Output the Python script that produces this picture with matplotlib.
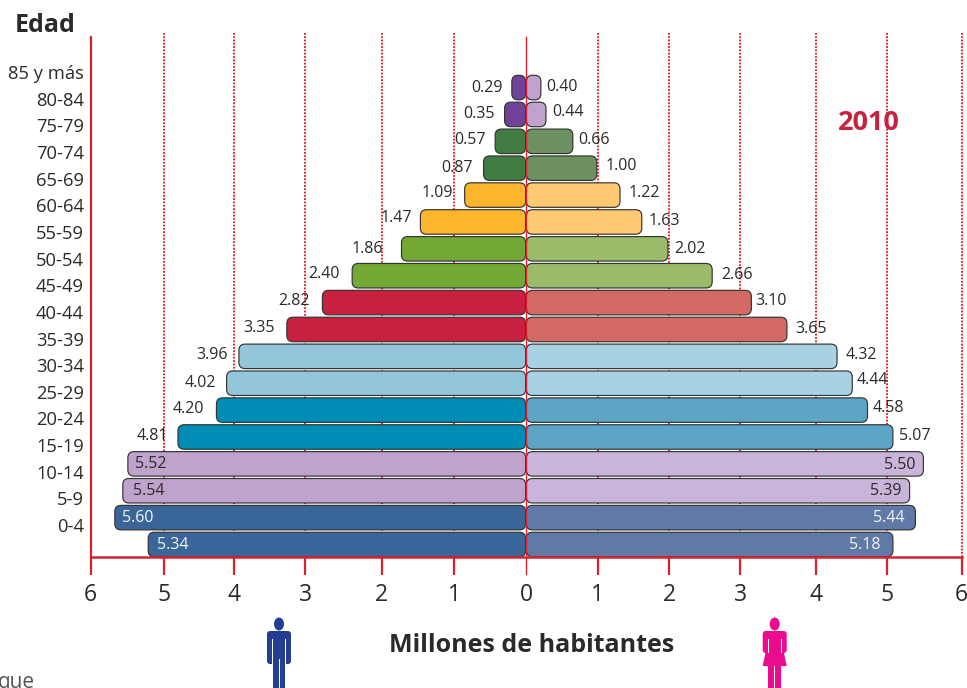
"""
Piramide de poblacion 2010 (millones de habitantes por edad y sexo).
"""

import matplotlib
matplotlib.use('Agg')
import matplotlib.pyplot as plt
from matplotlib.patches import Ellipse, FancyBboxPatch, Polygon, Rectangle

plt.rcParams['font.family'] = ['Open Sans', 'DejaVu Sans']

# Grupos de edad, de arriba hacia abajo
EDADES = ['85 y más', '80-84', '75-79', '70-74', '65-69', '60-64', '55-59', '50-54', '45-49',
          '40-44', '35-39', '30-34', '25-29', '20-24', '15-19', '10-14', '5-9', '0-4']

# Valores impresos en la grafica
ETIQUETAS_HOMBRES = ['0.29', '0.35', '0.57', '0.87', '1.09', '1.47', '1.86', '2.40', '2.82',
                     '3.35', '3.96', '4.02', '4.20', '4.81', '5.52', '5.54', '5.60', '5.34']
ETIQUETAS_MUJERES = ['0.40', '0.44', '0.66', '1.00', '1.22', '1.63', '2.02', '2.66', '3.10',
                     '3.65', '4.32', '4.44', '4.58', '5.07', '5.50', '5.39', '5.44', '5.18']

# Largo dibujado de cada barra, leido del eje (no siempre coincide con lo impreso)
LARGO_HOMBRES = [0.19, 0.29, 0.42, 0.58, 0.84, 1.45, 1.71, 2.39, 2.80,
                 3.29, 3.95, 4.12, 4.26, 4.79, 5.48, 5.55, 5.66, 5.20]
LARGO_MUJERES = [0.20, 0.27, 0.64, 0.97, 1.29, 1.59, 1.95, 2.56, 3.10,
                 3.59, 4.28, 4.49, 4.70, 5.05, 5.47, 5.28, 5.36, 5.05]

COLORES_HOMBRES = ['#6F439A'] * 2 + ['#417C42'] * 2 + ['#FDB52D'] * 2 + ['#72A833'] * 2 + \
                  ['#C8203F'] * 2 + ['#94C6DB'] * 2 + ['#008DB5'] * 2 + ['#BFA3CC'] * 2 + ['#3A6599'] * 2
COLORES_MUJERES = ['#BFA3CC'] * 2 + ['#6D9160'] * 2 + ['#FFC973'] * 2 + ['#9ABC6A'] * 2 + \
                  ['#D26965'] * 2 + ['#A8D1E3'] * 2 + ['#5CA5C6'] * 2 + ['#C9B4DA'] * 2 + ['#6079A7'] * 2

# Marcas del eje, trazadas a mano en el original
TICKS_X = [-6, -4.99, -4.02, -3.04, -1.99, -0.99, 0, 0.99, 1.97, 2.95, 4.0, 4.98, 6]
TICKS_X_TEXTO = ['6', '5', '4', '3', '2', '1', '0', '1', '2', '3', '4', '5', '6']

# Ajuste de cada etiqueta respecto al extremo de su barra, en pixeles
# (separacion hacia afuera, negativa = adentro; subida vertical)
SEP_HOMBRES = [9, 10, 10, 11, 12, 9, 19, 13, 13, 12, 11, 11, 13, 10, -7, -10, -7, -8]
SEP_MUJERES = [6, 7, 6, 9, 9, 7, 7, 9, 4, 9, 9, 5, 5, 6, -8, -8, -11, -12]
SUBE_HOMBRES = [0, 0, 1, 0, 2, 4, 0, 2, 2, 1, 1, 0, 1, 1, 0, 0, 0, 0]
SUBE_MUJERES = [1, 2, 1, 2, 2, 1, 0, 1, 2, 0, 1, 3, 2, 1, -1, 0, 0, 0]

ROJO = '#D8232F'
TEXTO = '#2B2A29'
PX_X = 72.5   # pixeles por millon
PX_Y = 26.88  # pixeles por fila


def barra(ax, lado, largo, y, color):
    """Dibuja una barra redondeada desde el centro hacia el lado indicado."""
    alto = 24.5 / PX_Y
    x0 = 0.005 * lado if lado > 0 else -largo - 0.005
    ax.add_patch(FancyBboxPatch((x0, y - alto / 2), largo, alto,
                                boxstyle='round,pad=0,rounding_size=0.085',
                                mutation_aspect=PX_X / PX_Y,
                                facecolor=color, edgecolor='#333333', linewidth=0.85, zorder=3))


def figura_hombre(ax, cx, color):
    ax.add_patch(Ellipse((cx, 624), 10, 13, color=color, lw=0))
    ax.add_patch(FancyBboxPatch((cx - 12, 631), 24, 33, boxstyle='round,pad=0,rounding_size=3',
                                color=color, lw=0))
    ax.add_patch(Rectangle((cx - 6.5, 650), 13, 40, color=color, lw=0))
    # separaciones de brazos y piernas
    ax.add_patch(Rectangle((cx - 6.8, 639), 0.8, 26, color='white', lw=0))
    ax.add_patch(Rectangle((cx + 6, 639), 0.8, 26, color='white', lw=0))
    ax.add_patch(Rectangle((cx - 7.5, 665), 1.2, 25, color='white', lw=0))
    ax.add_patch(Rectangle((cx + 6.3, 665), 1.2, 25, color='white', lw=0))
    ax.add_patch(Rectangle((cx - 0.5, 659), 1, 31, color='white', lw=0))
    ax.add_patch(Rectangle((cx - 12.5, 664), 5, 2, color='white', lw=0))
    ax.add_patch(Rectangle((cx + 7.5, 664), 5, 2, color='white', lw=0))


def figura_mujer(ax, cx, color):
    ax.add_patch(Ellipse((cx, 624), 10, 13, color=color, lw=0))
    ax.add_patch(FancyBboxPatch((cx - 12, 631), 24, 22, boxstyle='round,pad=0,rounding_size=3',
                                color=color, lw=0))
    ax.add_patch(Polygon([(cx - 6.5, 640), (cx + 6.5, 640), (cx + 12, 666), (cx - 12, 666)],
                         color=color, lw=0))
    ax.add_patch(Rectangle((cx - 6.5, 666), 13, 24, color=color, lw=0))
    ax.add_patch(Rectangle((cx - 7, 639), 0.8, 14, color='white', lw=0))
    ax.add_patch(Rectangle((cx + 6.2, 639), 0.8, 14, color='white', lw=0))
    ax.add_patch(Rectangle((cx - 0.5, 666), 1, 24, color='white', lw=0))


fig = plt.figure(figsize=(9.67, 6.88), dpi=100)

# Ejes principales: x de 90.5 a 961.5 px, y de 33 a 557 px
ax = fig.add_axes([90.5 / 967, (688 - 557) / 688, 871 / 967, 524 / 688])
ax.set_xlim(-6, 6)
ax.set_ylim(-0.465, 19.03)

n = len(EDADES)
filas = [n - 1 - i for i in range(n)]

for x in TICKS_X[1:6] + TICKS_X[7:]:
    ax.plot([x, x], [-0.465, 19.03], color='#E31E2D', lw=1.4, ls=(0, (0.9, 0.8)), zorder=1,
            clip_on=False)

for i, fila in enumerate(filas):
    barra(ax, -1, LARGO_HOMBRES[i], fila, COLORES_HOMBRES[i])
    barra(ax, 1, LARGO_MUJERES[i], fila, COLORES_MUJERES[i])

    # Las cuatro filas inferiores llevan la etiqueta dentro de la barra
    adentro = i >= 14
    ax.annotate(ETIQUETAS_HOMBRES[i], (-LARGO_HOMBRES[i], fila),
                xytext=(-SEP_HOMBRES[i], SUBE_HOMBRES[i]), textcoords='offset pixels',
                ha='left' if adentro else 'right', va='center', fontsize=11.5,
                color='#F4F4F4' if i >= 16 else TEXTO, zorder=5)
    ax.annotate(ETIQUETAS_MUJERES[i], (LARGO_MUJERES[i], fila),
                xytext=(SEP_MUJERES[i], SUBE_MUJERES[i]), textcoords='offset pixels',
                ha='right' if adentro else 'left', va='center', fontsize=11.5,
                color='#F4F4F4' if i >= 16 else TEXTO, zorder=5)

# Linea central
ax.plot([0, 0], [-1.1, 18.88], color=ROJO, lw=1.0, zorder=4, clip_on=False)

# Ejes
for lado in ['top', 'right']:
    ax.spines[lado].set_visible(False)
ax.spines['left'].set_color(ROJO)
ax.spines['left'].set_linewidth(1.6)
ax.spines['left'].set_bounds(-0.465, 18.88)
ax.spines['bottom'].set_color(ROJO)
ax.spines['bottom'].set_linewidth(1.8)
ax.spines['bottom'].set_zorder(4)

ax.set_xticks(TICKS_X)
ax.set_xticklabels(TICKS_X_TEXTO)
ax.tick_params(axis='x', length=13, width=1.6, color=ROJO, pad=6, labelsize=16.5, labelcolor=TEXTO)
ax.xaxis.get_major_ticks()[6].tick1line.set_visible(False)

# Las edades van desfasadas respecto a las barras, como en el original
ax.set_yticks([(544.5 - (72 + 26.65 * i)) / PX_Y for i in range(n)])
ax.set_yticklabels(EDADES)
ax.tick_params(axis='y', length=0, pad=4.7, labelsize=13.2, labelcolor=TEXTO)

# Capa en pixeles para titulos y figuras
capa = fig.add_axes([0, 0, 1, 1], zorder=10)
capa.set_xlim(0, 967)
capa.set_ylim(688, 0)
capa.axis('off')
capa.patch.set_alpha(0)

capa.text(45, 26, 'Edad', ha='center', va='center', fontsize=18, fontweight='bold', color=TEXTO)
capa.text(531.5, 646, 'Millones de habitantes', ha='center', va='center', fontsize=18,
          fontweight='bold', color=TEXTO)
capa.text(869, 123, '2010', ha='center', va='center', fontsize=19.5, fontweight='bold', color='#C8203F')
capa.text(-2, 688, 'que', ha='left', va='baseline', fontsize=15, color='#555555')

figura_hombre(capa, 279, '#233E93')
figura_mujer(capa, 774.7, '#EC0B8C')

fig.savefig('out.png', dpi=100)
